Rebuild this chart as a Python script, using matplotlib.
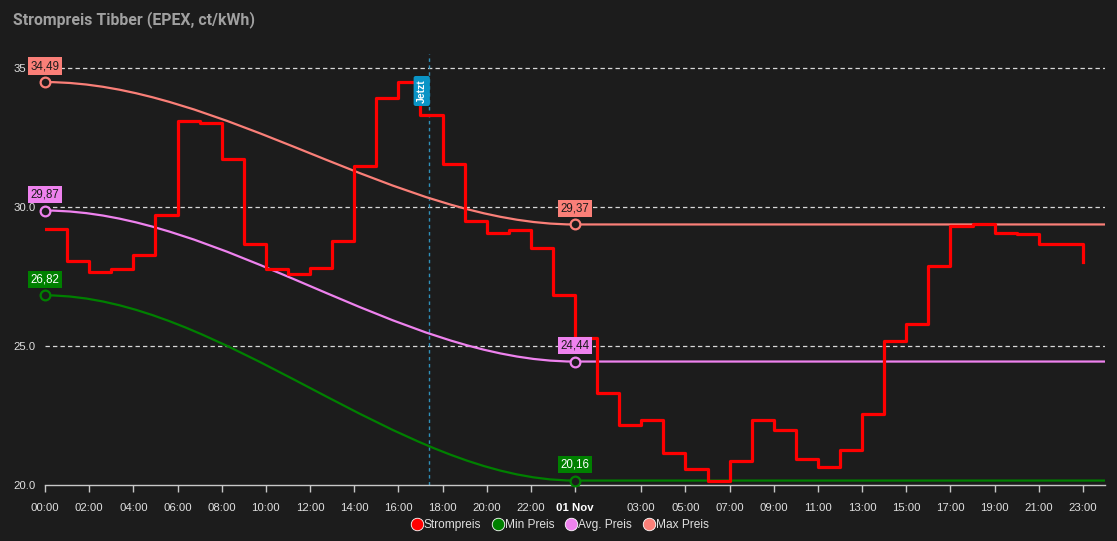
import matplotlib.pyplot as plt
from matplotlib.path import Path
from matplotlib.patches import PathPatch
from matplotlib.lines import Line2D

# Stundenpreise (ct/kWh), 00:00 heute bis 23:00 morgen
stunden = list(range(48))
strompreis = [29.21, 28.06, 27.66, 27.77, 28.26, 29.70, 33.09, 33.01, 31.71, 28.66,
              27.78, 27.60, 27.81, 28.78, 31.46, 33.90, 34.49, 33.31, 31.53, 29.50,
              29.05, 29.16, 28.51, 26.82, 25.28, 23.30, 22.15, 22.33, 21.14, 20.59,
              20.16, 20.86, 22.33, 21.98, 20.94, 20.64, 21.27, 22.54, 25.19, 25.79,
              27.88, 29.32, 29.38, 29.05, 29.03, 28.68, 28.65, 28.03]

# Tageswerte min / avg / max
tage_x = [0, 24, 48]
min_preis = [26.82, 20.16, 20.16]
avg_preis = [29.87, 24.44, 24.44]
max_preis = [34.49, 29.37, 29.37]

jetzt = 17.39

xtick_pos = [0, 2, 4, 6, 8, 10, 12, 14, 16, 18, 20, 22, 24,
             27, 29, 31, 33, 35, 37, 39, 41, 43, 45, 47]
xtick_lab = ['00:00', '02:00', '04:00', '06:00', '08:00', '10:00', '12:00', '14:00',
             '16:00', '18:00', '20:00', '22:00', '01 Nov',
             '03:00', '05:00', '07:00', '09:00', '11:00', '13:00', '15:00',
             '17:00', '19:00', '21:00', '23:00']
ytick_pos = [20, 25, 30, 35]
ytick_lab = ['20.0', '25.0', '30.0', '35']

bg = '#1c1c1c'
c_strom = '#ff0000'
c_min = '#008000'
c_avg = '#ee82ee'
c_max = '#fa7f78'

plt.rcParams['font.family'] = ['Liberation Sans', 'DejaVu Sans']

fig = plt.figure(figsize=(11.17, 5.41), dpi=100, facecolor=bg)
ax = fig.add_axes([45/1117, 1 - 485/541, 1060/1117, 431/541])
ax.set_facecolor(bg)
ax.set_xlim(0, 48)
ax.set_ylim(20, 35.5)

for s in ['top', 'right', 'left']:
    ax.spines[s].set_visible(False)
ax.spines['bottom'].set_color('#c8c8c8')
ax.spines['bottom'].set_linewidth(1)

# Gitter
for y in ytick_pos[1:]:
    ax.axhline(y, color='#d8d8d8', lw=0.9, ls=(0, (3.5, 2.5)), zorder=1)

# Jetzt-Linie
ax.axvline(jetzt, color='#2f8fb8', lw=1, ls=(0, (2.5, 2.5)), zorder=2)
ax.text(jetzt - 0.33, 34.17, 'Jetzt', rotation=90, ha='center', va='center',
        color='white', fontsize=7.5, fontweight='bold', zorder=7,
        bbox=dict(boxstyle='round,pad=0.3,rounding_size=0.2', fc='#0a94c6', ec='none'))


def glatt(xs, ys):
    verts = [(xs[0], ys[0])]
    codes = [Path.MOVETO]
    for i in range(len(xs) - 1):
        dx = xs[i + 1] - xs[i]
        verts += [(xs[i] + dx / 3, ys[i]), (xs[i + 1] - dx / 3, ys[i + 1]), (xs[i + 1], ys[i + 1])]
        codes += [Path.CURVE4] * 3
    return Path(verts, codes)


for ys, col, txtcol in [(max_preis, c_max, '#1c1c1c'), (avg_preis, c_avg, '#1c1c1c'),
                        (min_preis, c_min, 'white')]:
    ax.add_patch(PathPatch(glatt(tage_x, ys), fill=False, edgecolor=col, lw=1.6, zorder=3))
    ax.plot(tage_x[:2], ys[:2], ls='none', marker='o', ms=7, mfc=bg, mec=col, mew=1.6,
            zorder=5, clip_on=False)
    for x, y in zip(tage_x[:2], ys[:2]):
        ax.annotate(f'{y:.2f}'.replace('.', ','), (x, y), xytext=(0, 11.5),
                    textcoords='offset points', ha='center', va='center',
                    fontsize=8.3, color=txtcol, zorder=6, annotation_clip=False,
                    bbox=dict(boxstyle='square,pad=0.25', fc=col, ec='none'))

ax.step(stunden, strompreis, where='post', color=c_strom, lw=2.3, zorder=4)

ax.set_xticks(xtick_pos)
ax.set_xticklabels(xtick_lab)
ax.tick_params(axis='x', colors='#c8c8c8', length=5, width=1, pad=8,
               labelsize=8.2, labelcolor='#e0e0e0')
for lab in ax.get_xticklabels():
    if lab.get_text() == '01 Nov':
        lab.set_fontweight('bold')
        lab.set_color('white')

ax.set_yticks(ytick_pos)
ax.set_yticklabels(ytick_lab)
ax.tick_params(axis='y', length=0, pad=22.5, labelsize=8.2, labelcolor='#e0e0e0')
for lab in ax.get_yticklabels():
    lab.set_horizontalalignment('left')

fig.text(13/1117, 1 - 20/541, 'Strompreis Tibber (EPEX, ct/kWh)', color='#a0a0a0',
         fontsize=11.4, fontweight='bold', family=['Roboto', 'DejaVu Sans'], va='center')

handles = [Line2D([], [], ls='none', marker='o', ms=9, mfc=c, mec='white', mew=0.6)
           for c in [c_strom, c_min, c_avg, c_max]]
leg = fig.legend(handles, ['Strompreis', 'Min Preis', 'Avg. Preis', 'Max Preis'],
                 loc='center', bbox_to_anchor=(560/1117, 1 - 525/541), ncol=4,
                 frameon=False, fontsize=8.6, handlelength=0.9, handletextpad=0.1,
                 columnspacing=1.0, labelcolor='#e0e0e0')

fig.savefig('out.png', dpi=100, facecolor=bg)
